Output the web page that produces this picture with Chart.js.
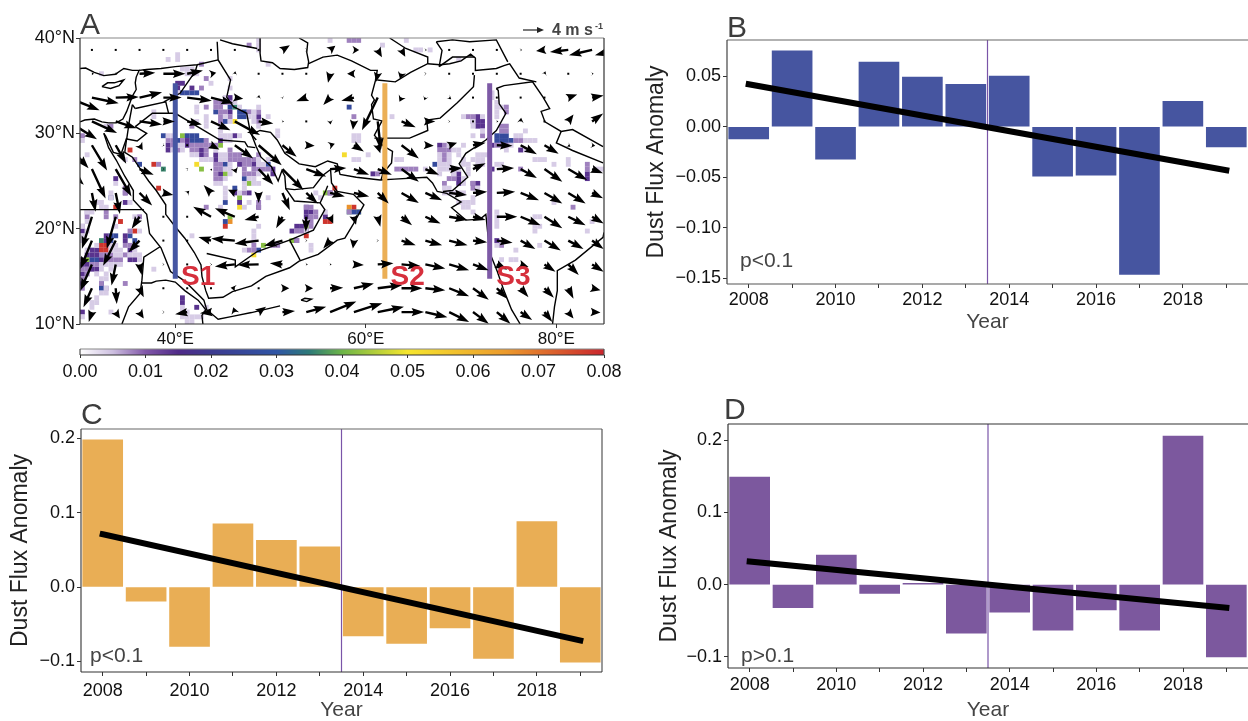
<!DOCTYPE html>
<html>
<head>
<meta charset="utf-8">
<title>Dust flux anomaly</title>
<script src="https://cdn.jsdelivr.net/npm/chart.js@4"></script>
<style>
    html, body { margin: 0; padding: 0; background: #fff; width: 1248px; height: 721px; overflow: hidden; }
    .panel { position: absolute; }
</style>
</head>
<body>
<div class="panel" style="left:0;top:0;width:640px;height:345px"><canvas id="mapChart"></canvas></div>
<div class="panel" style="left:40px;top:345px;width:600px;height:40px"><canvas id="barChart"></canvas></div>
<div class="panel" style="left:640px;top:10px;width:608px;height:330px"><canvas id="chartB"></canvas></div>
<div class="panel" style="left:0;top:395px;width:620px;height:326px"><canvas id="chartC"></canvas></div>
<div class="panel" style="left:640px;top:395px;width:608px;height:326px"><canvas id="chartD"></canvas></div>
<script>
// ─── Data: anomaly panels ───
const years = [2008, 2009, 2010, 2011, 2012, 2013, 2014, 2015, 2016, 2017, 2018, 2019];
const fluxS1 = [-0.012, 0.075, -0.032, 0.064, 0.049, 0.042, 0.050, -0.049, -0.048, -0.146, 0.025, -0.020];
const fluxS2 = [0.198, -0.019, -0.080, 0.085, 0.063, 0.054, -0.066, -0.076, -0.055, -0.096, 0.088, -0.101];
const fluxS3 = [0.149, -0.032, 0.041, -0.012, 0.002, -0.067, -0.038, -0.063, -0.035, -0.063, 0.206, -0.100];
const trendS1 = [0.042, -0.043];
const trendS2 = [0.071, -0.072];
const trendS3 = [0.032, -0.032];
const ticksS1 = [0.05, 0, -0.05, -0.10, -0.15];
const ticksS23 = [0.2, 0.1, 0, -0.1];
const breakYear = 2013.5;

// ─── Data: map ───
const lonTicks = [40, 60, 80];
const latTicks = [10, 20, 30, 40];
const barTicks = [0, 0.01, 0.02, 0.03, 0.04, 0.05, 0.06, 0.07, 0.08];
const sectionLons = [40, 62, 73];
const sectionLats = [35.25, 14.75];
const sectionNames = ['S1', 'S2', 'S3'];
const sectionLabelLons = [40.6, 62.6, 73.7];
const sectionLabelLat = 14.1;
const keySpeed = 4;

// dust cells, one row per line: [lat, lon, lon, ...]
const dustFaint = [
    [39.75, 48.75, 56.25, 64.25], [39.25, 48.75, 61.75], [38.75, 48.75, 65.25, 65.75, 66.75], [38.25, 40.25],
    [37.75, 39.25, 40.25, 69.75], [37.25, 49.75], [36.75, 40.75, 41.25, 41.75], [36.25, 32.25, 41.25, 41.75, 42.25],
    [35.75, 45.75], [35.25, 43.75], [34.75, 45.75], [34.25, 40.25, 73.25], [33.75, 45.25, 73.25], [33.25, 46.25, 73.75],
    [32.75, 42.25, 46.75, 48.75, 73.75, 74.25], [32.25, 37.75, 42.25, 48.25, 73.75],
    [31.75, 37.75, 43.25, 45.25, 47.75, 48.25, 49.75, 62.75, 70.25, 72.25, 73.75], [31.25, 42.25, 43.25, 45.75, 48.25, 71.25],
    [30.75, 32.75, 43.25, 44.75, 48.75, 71.25], [30.25, 44.75, 50.75, 72.25, 76.75],
    [29.75, 39.25, 39.75, 44.75, 45.25, 45.75, 46.75, 50.75, 58.75, 59.25, 71.25, 75.75, 76.25],
    [29.25, 30.25, 45.25, 45.75, 58.75, 59.25, 76.75, 77.25, 77.75], [28.75, 40.25, 40.75, 68.75, 70.25, 75.25],
    [28.25, 39.75, 40.75, 44.25, 69.25, 69.75, 74.75, 76.75],
    [27.75, 30.75, 41.75, 42.25, 44.75, 45.25, 60.25, 67.75, 68.75, 69.75, 71.75, 72.25, 72.75],
    [27.25, 34.75, 42.75, 43.25, 43.75, 44.75, 45.25, 48.75, 49.75, 58.75, 59.25, 63.25, 63.75, 67.75, 68.75, 70.25, 71.25, 71.75, 72.25, 77.75, 78.25, 78.75, 81.25],
    [26.75, 45.75, 48.75, 49.25, 67.75, 68.25, 68.75, 70.25, 70.75, 71.75, 72.25, 73.75, 74.25, 79.75, 81.25],
    [26.25, 45.25, 45.75, 66.25, 67.75, 68.25, 68.75, 69.75, 70.75, 84.25, 84.75], [25.75, 45.75, 48.75, 67.75, 69.25, 70.75],
    [25.25, 45.25, 47.75, 48.25, 70.25], [24.75, 33.75, 44.25, 44.75, 47.25, 48.25, 48.75, 70.25], [24.25, 45.25, 47.25, 68.25, 68.75, 71.75],
    [23.75, 33.25, 45.25, 46.75, 54.75, 68.25, 68.75, 69.25, 69.75, 70.25], [23.25, 33.25, 45.25, 49.75, 55.25, 71.25],
    [22.75, 31.75, 32.25, 35.25, 47.75, 69.75, 70.25, 70.75, 71.25, 79.75], [22.25, 32.25, 32.75, 44.75, 47.25, 70.25, 70.75],
    [21.75, 30.75, 31.25, 55.75, 71.25, 73.75], [21.25, 35.75, 73.75, 77.75, 78.25], [20.75, 30.75, 53.75, 73.75, 83.75],
    [20.25, 30.25, 33.75, 48.75, 73.75, 77.75, 78.25], [19.75, 30.75, 36.25, 48.25, 53.75, 77.75, 83.25], [19.25, 30.25, 41.75, 48.25],
    [18.75, 30.25, 48.25], [18.25, 31.75, 33.25, 33.75, 35.75, 54.25, 73.75, 78.25], [17.75, 30.75, 33.25, 33.75, 34.25, 35.75, 47.25, 54.25, 75.75],
    [17.25, 33.75, 34.25, 35.25, 35.75, 36.25], [16.75, 36.25, 74.25, 75.25, 75.75], [16.25, 32.25, 32.75, 33.25, 33.75, 34.25],
    [15.75, 32.25, 33.25, 37.75], [15.25, 31.75, 32.75], [14.75, 32.25, 32.75], [13.75, 32.75], [13.25, 32.25, 32.75], [12.75, 31.75],
    [12.25, 31.25, 31.75], [11.75, 31.25, 40.75, 43.25], [11.25, 33.25, 40.75, 41.25, 43.25],
    [10.75, 30.25, 40.75, 41.25, 41.75, 42.25, 42.75], [10.25, 41.25, 41.75]
];
const dustMid = [
    [39.75, 58.25, 58.75, 59.25], [39.25, 47.75], [37.25, 42.75], [35.75, 43.25], [34.75, 42.75], [33.25, 44.25, 44.75, 45.25, 45.75],
    [32.75, 43.25, 44.25, 44.75, 74.75], [32.25, 44.75, 45.25, 47.75, 48.75, 74.75], [31.75, 44.75, 45.75, 58.75, 70.75, 71.25],
    [31.25, 44.75, 48.75, 71.25], [30.75, 33.25, 41.75, 74.25, 74.75], [30.25, 74.25, 74.75], [29.75, 30.25, 72.25],
    [29.25, 39.25, 39.75, 40.75, 43.25, 75.75, 76.25], [28.75, 39.75, 41.75, 42.25, 42.75, 43.25, 43.75, 44.25, 68.25, 73.75, 74.25, 74.75],
    [28.25, 40.25, 41.75, 42.25, 43.25, 45.75, 67.75, 68.25, 68.75], [27.75, 43.25, 45.75, 46.25, 46.75, 48.75, 68.25],
    [27.25, 35.75, 45.75, 46.25, 46.75, 47.25, 47.75, 48.25, 68.25], [26.75, 38.25, 44.25, 44.75, 47.25, 47.75, 83.25],
    [26.25, 44.25, 44.75, 47.25, 48.25, 48.75, 49.25, 49.75, 63.25, 63.75, 64.25, 64.75, 65.25, 76.25, 83.25],
    [25.75, 44.25, 47.25, 47.75, 48.25, 61.25, 69.25], [25.25, 44.25, 44.75, 68.75, 69.25], [24.75, 68.25, 71.25],
    [24.25, 34.75, 71.25], [23.75, 34.75, 47.25, 56.25], [22.75, 48.75], [22.25, 43.25, 48.75, 53.75, 54.25, 81.75],
    [21.75, 30.75, 32.75, 54.75, 58.25], [21.25, 30.75, 32.75, 33.75, 36.25, 54.25, 54.75], [20.75, 53.75, 54.25], [20.25, 30.25, 54.25],
    [19.75, 35.25, 52.75, 53.25], [18.75, 52.75], [18.25, 34.75, 35.25, 48.25, 50.25, 50.75, 74.25], [17.75, 47.75, 48.25],
    [17.25, 32.25, 32.75, 33.25, 34.75], [16.75, 30.25, 32.75, 33.25, 33.75, 34.25], [16.25, 31.25, 31.75], [15.75, 30.25, 30.75], [15.25, 30.75],
    [14.75, 30.25], [14.25, 32.25, 34.75], [13.75, 30.25, 32.75], [11.25, 40.75]
];
const dustDark = [
    [35.25, 40.25, 40.75], [34.75, 40.25, 41.75], [33.75, 45.75], [32.25, 45.75], [31.75, 48.75, 71.75], [31.25, 71.75, 72.25], [30.75, 71.75, 72.25],
    [29.75, 46.25], [29.25, 41.25, 44.75], [28.75, 39.25, 41.25, 67.75, 73.25], [28.25, 39.25, 42.75, 76.25], [27.75, 42.75, 44.25], [27.25, 44.25],
    [26.75, 46.75, 48.25], [26.25, 50.25, 73.25], [25.75, 44.75, 50.25, 60.75, 69.75, 83.25], [25.25, 33.75, 69.75, 83.25],
    [24.75, 69.75, 71.25, 71.75], [23.75, 46.25, 47.75, 34.75, 56.25], [22.75, 46.75, 34.75], [22.25, 48.75, 53.75],
    [21.75, 53.75, 54.25], [21.25, 53.75, 55.75], [20.25, 52.75, 53.25], [19.75, 30.25, 52.25, 53.75], [19.25, 32.75, 34.75],
    [18.75, 32.75, 34.75, 52.75, 73.75], [17.75, 31.25, 31.75, 35.25], [17.25, 30.75, 31.25, 31.75], [16.75, 32.25, 35.25, 35.75],
    [16.25, 30.25, 30.75], [15.75, 31.25, 31.75], [15.25, 30.25], [14.25, 30.25], [12.75, 40.75], [12.25, 40.75], [11.75, 42.25], [11.25, 30.25]
];
const dustBlue = [
    [34.25, 40.75, 41.25, 41.75, 42.25], [32.75, 45.75, 58.25], [32.25, 44.25, 46.75, 47.25], [31.75, 46.75, 47.25], [31.25, 45.25],
    [29.75, 38.75, 41.25, 41.75, 42.25, 73.75, 74.25, 74.75], [29.25, 40.25, 41.75, 42.25, 42.75, 73.75, 74.25, 74.75, 75.25],
    [26.75, 36.25, 45.25, 49.75, 67.25], [25.25, 47.25], [24.25, 46.25], [23.25, 33.25], [22.75, 45.25], [21.75, 58.75, 59.25], [20.75, 45.25],
    [19.25, 33.25, 33.75, 35.25], [18.75, 33.25, 35.75], [17.75, 48.75], [16.75, 31.25, 31.75], [14.25, 32.25], [13.75, 32.25]
];
const dustTeal = [[32.75, 46.25], [26.25, 38.75], [21.75, 58.25], [18.75, 32.25]];
const dustGreen = [
    [29.75, 40.75], [28.75, 44.75], [26.25, 42.75], [25.75, 45.25], [24.75, 47.75], [23.75, 55.75], [23.25, 46.75], [21.75, 59.25],
    [21.25, 45.75], [20.25, 53.75], [18.75, 52.25], [18.25, 49.25], [16.75, 30.75]
];
const dustYellow = [[31.25, 46.25], [27.75, 57.75], [26.75, 42.25], [22.25, 46.75], [17.25, 48.25]];
const dustOrange = [[22.25, 58.25], [20.75, 45.75]];
const dustRed = [
    [28.25, 35.25], [26.75, 37.75], [24.25, 38.25, 56.75], [22.25, 33.75, 58.75], [20.75, 34.25, 55.75, 56.25],
    [20.25, 45.25], [19.75, 35.75], [19.25, 53.75], [18.25, 32.25, 32.75], [17.75, 32.25, 32.75]
];
const dustValues = [0.004, 0.008, 0.014, 0.026, 0.036, 0.042, 0.052, 0.066, 0.078];
const dustGroups = [dustFaint, dustMid, dustDark, dustBlue, dustTeal, dustGreen, dustYellow, dustOrange, dustRed];

// colour ramp of the bar: value, colour
const rampValues = [0, 0.005, 0.01, 0.015, 0.02, 0.03, 0.035, 0.04, 0.05, 0.065, 0.08];
const rampColors = ['#ffffff', '#cdbfe0', '#8157a8', '#4f2a88', '#3d3a8f', '#2f55a5', '#2d7a78', '#6cb548', '#f6e62e', '#ec9a2c', '#c9252d'];

// wind grid, tail of each arrow sits on these
const windLons = [28.75, 31.25, 33.75, 36.25, 38.75, 41.25, 43.75, 46.25, 48.75, 51.25, 53.75, 56.25, 58.75, 61.25, 63.75, 66.25, 68.75, 71.25, 73.75, 76.25, 78.75, 81.25, 83.75, 86.25];
const windLats = [38.75, 36.25, 33.75, 31.25, 28.75, 26.25, 23.75, 21.25, 18.75, 16.25, 13.75, 11.25];
const windU = [
    [0, .1, .1, .1, .1, .1, .1, .1, .1, 1.4, .2, 1, 1, .8, .7, .3, .1, .1, .1, .3, -1.6, -3.5, -4.4, -4],
    [0, .4, .4, 3, 4.2, 3, 1, .1, .1, 0, 0, -.4, -1.3, -.3, -.3, .2, .1, .1, .1, .1, .2, .1, .3, 0],
    [6, 5.1, 4.4, 4.3, 3.5, 4.7, 4.3, 1.6, .1, .1, -1.9, -1.3, -2.4, -3, -.4, -.2, .4, .1, .1, .1, .1, 1.7, 2.2, 0],
    [5.5, 4.8, 4, 4.3, 2.2, 2.8, 3.7, 4.8, 2.8, .3, .1, .1, -.2, .6, 2.7, 1.9, .2, .1, .3, .1, .1, 1, 2.1, 0],
    [3.9, 2.9, 2, .6, .2, .1, 1.6, 3.5, 4.4, 2.7, 1.6, .9, 1.9, .5, 3.3, 1.6, 1.5, 2.4, 3, 3.1, 2.7, .4, .6, 0],
    [3, 2.6, 3, 2.7, .2, .2, .2, .3, 2.8, 4, 3.8, 3.1, 2.9, 2.7, 3.3, 2.6, 2.5, 2.4, 3.3, 3.1, 3.4, 3.6, 2.1, 0],
    [2, .7, .8, 2.4, 1.9, .4, -1.4, -1.3, 0, 1.4, 2.2, 2.8, 2.9, 2.1, 3.3, 3.2, 3.4, 2.7, 3.5, 3.5, 3.4, 3.3, 2.1, 0],
    [2, -1.9, -1.7, -1.5, .1, .1, -3.4, -3.8, -2.7, -1.2, -.1, .6, .4, .5, 2, 2.9, 3.5, 2.4, 3.9, 3.8, 3.4, 3.3, 2.2, 0],
    [0, -2.2, -2.4, -2.1, .1, .1, -2.4, -4.5, -4.6, -3.5, .2, -1.3, -.2, .2, 2.7, 3.2, 3.5, 2.7, 3, 2.8, 3.1, 2.9, 2.2, 0],
    [0, -2.2, -.8, .4, .2, .1, .2, -3.8, -4, -2.4, .3, .3, 1.9, 3, 3.6, 3.8, 3.8, 3, 2, 1.5, 2.1, 2, 2.2, 0],
    [0, -1.6, .2, .8, .1, .1, .1, -.8, .1, 1.3, 1.3, 2.5, 3.8, 4.7, 4, 3.8, 3.8, 3, 2, 1.5, 1.8, 1, 1.6, 0],
    [0, -.6, .8, .8, .2, -2.3, -2.1, -.3, 1.4, 2.4, 3.8, 5, 5.4, 5, 4.3, 4.2, 3.8, 3, 2.6, 2.2, 1.5, 1, 1.6, 0]
];
const windV = [
    [0, -.1, -.1, 0, 0, 0, 0, 0, 0, .9, 0, .8, 0, -1.4, -1.3, 0, 0, 0, 0, 0, -.2, -.4, -1, -1],
    [0, 0, 0, .2, 0, .6, .2, .5, .1, 0, 0, -1.7, 0, -1.5, -1, 0, 0, 0, 0, 0, .5, 0, 0, 0],
    [-2.4, -1.1, .1, 1, 0, -.6, -1.1, -.2, .5, -.2, -.7, -1.4, -.6, -6.2, -.8, -.5, -.3, 0, 0, 0, 0, .6, .4, 0],
    [-3.4, -2.2, -1.3, -.6, 0, -.6, -1.7, -2.6, -.4, 0, 0, -.6, -1.6, -5.5, -1.1, 0, 0, 0, 0, .7, 0, 1.3, 1.5, 0],
    [-4.4, -4.8, -3.5, -.9, -.1, 0, -.8, -2.5, -3.8, -2.2, -.1, .3, -1.2, -1.5, -2.5, -.1, .5, .5, -.1, -1.7, -1.6, -.3, -.1, 0],
    [-3, -5.6, -5.2, -1.1, 0, .1, -.3, -.8, -3, -4, -1.4, .2, -1.1, -1.1, -2.4, -1.1, .2, 1.1, .2, -1.7, -2.4, -2.1, -.8, 0],
    [-3, -3.6, -4, -2.4, -.4, .4, 1.5, .6, -1.9, -3.3, -2, -.7, -.7, -2, -1.9, -1.4, -.4, .2, .2, -1.4, -2, -2, -1, 0],
    [-3, -6.1, -6.1, -2.3, 0, 0, 1.9, 1.6, -.6, -2.2, -2.9, -1.3, -1.5, -1.9, -1.6, -1.3, -.6, -.6, 0, -1.6, -2.2, -1.6, -1.3, 0],
    [0, -5.4, -4.8, -2.2, 0, 0, .7, .4, -.6, -1, 0, -1.5, -1.5, 0, -.9, -.9, -.9, -.3, -.4, -1.6, -1.9, -1.6, -1.6, 0],
    [0, -5, -4, -2, 0, 0, 0, -.4, -.1, .2, 0, 0, -.1, .2, -.3, -.8, -1.1, -1.1, -1, -.5, -1.4, -2, -1.4, 0],
    [0, -3.6, -3, -1.7, 0, 0, 0, .1, 0, 0, 0, .1, .9, .6, 0, -.4, -1.5, -2.2, -2, -1.7, -1.8, -2, -.4, 0],
    [0, -1.9, -1.2, -1.2, 0, -.4, -.2, .9, 1, .2, 1, 2, 1.7, 1, 0, -1, -1.9, -2.2, -2.2, -1.5, -1.9, -1.2, -.1, 0]
];

// coast and border polylines, flat lon,lat
const mapLines = [
    [30, 36.8, 30.6, 36.85, 31.5, 36.4, 32.5, 36.05, 33.7, 36.2, 34.6, 36.8, 35.5, 36.6, 36.2, 36.6, 35.9, 35.9, 35.8, 35.3, 35.9, 34.6, 35.5, 33.9, 35.2, 33.1, 34.9, 32.3, 34.5, 31.5, 33.8, 31.1, 33, 31.1, 32.3, 31.2, 31.5, 31.5, 30.5, 31.4, 30, 31.2],
    [32.3, 34.9, 33.2, 34.7, 34.1, 35, 34.6, 35.6, 33.6, 35.3, 32.9, 35.3, 32.3, 34.9],
    [32.5, 30, 33, 28.5, 33.8, 27.2, 34.7, 25.5, 35.6, 24, 35.6, 23, 37, 21.5, 37.3, 19.5, 38.5, 18, 39.5, 15.5, 41, 14.5, 43, 12.5, 43.3, 11.5, 44.5, 10.5, 46, 10.8, 48, 11.2, 51, 11.9],
    [32.5, 30, 32.7, 29.7, 33.5, 28, 34.3, 27.8, 34.9, 29.5],
    [34.9, 29.5, 34.7, 28, 35.5, 27.5, 36.5, 26, 37.2, 25, 38, 24, 39, 22.5, 39, 21.5, 40, 20.2, 41, 19, 42, 17.5, 42.7, 16.2, 42.8, 15, 43.2, 13.5, 43.5, 12.7, 45, 12.8, 46, 13.4, 48, 14, 49.5, 15, 52, 15.9, 53, 16.6, 55, 17.3, 57, 18.8, 57.8, 19, 58.7, 20.5, 59.8, 22.5, 58.7, 23.6, 57, 23.9, 56.4, 24.8, 56.3, 26.2, 55.5, 25.6, 54.5, 24.3, 52.5, 24.1, 51.6, 24.2, 51.5, 25.5, 51.2, 26.1, 50.8, 25, 50.1, 26.5, 49, 27.5, 48.5, 28.6, 48, 29.9, 48.9, 30.3, 50, 30.1, 50.7, 29.3, 51.5, 27.9, 53, 26.8, 54.7, 26.5, 56, 27.1, 57, 26.8, 57.3, 25.7, 59, 25.4, 61.5, 25.1, 63, 25.2, 66.4, 25.4, 67, 24.8, 67.5, 23.9, 68.5, 23.7, 70, 22.8, 69, 22.2, 70.5, 20.9, 72, 21, 72.6, 21.5, 72.8, 19.5, 73, 17.5, 73.8, 15.5, 74.5, 13.5, 75.3, 11.5, 76.2, 10],
    [79.6, 10, 79.8, 11.8, 80.1, 13.5, 80.1, 15.6, 82, 16.7, 84.9, 19.1, 85, 19.6],
    [48.9, 40, 48.9, 38.4, 49, 37.6, 50.2, 37.4, 51, 36.8, 52.5, 36.7, 53.9, 36.9, 54, 37.5, 53.8, 38.5, 53.9, 39.5, 53, 40],
    [54, 37.3, 55.5, 38, 57, 38.2, 58.5, 37.6, 60.5, 36.6, 61.2, 36.6, 61, 35.5, 60.6, 34, 60.9, 33.5, 60.6, 33, 60.8, 31.5, 61.7, 31.3, 60.9, 29.8, 61.8, 28.7, 62.8, 28.1, 62.7, 26.9, 61.8, 25.8, 61.6, 25.1],
    [61.2, 35.6, 63.1, 35.4, 64.7, 36.4, 66.5, 37.3, 67.8, 37.2, 68.8, 37.3, 70, 37.6, 71, 38.3, 71.5, 37.9, 71.5, 36.6, 73.7, 36.8, 74.5, 37.1, 75.1, 37.3, 76.1, 35.8, 77.9, 35.4],
    [71.4, 36.1, 71.3, 34.9, 69.6, 33.2, 67.8, 31.6, 66.4, 31.4, 66.5, 30.3, 64.6, 29.5, 60.9, 29.5],
    [73.7, 34.7, 73.9, 34.5, 74, 33.1, 74.7, 32.1, 73.7, 30.3, 72.6, 29.3, 70.5, 27.9, 69.8, 26.8, 70.7, 25.4, 69.1, 24, 68.1, 23.9],
    [73.7, 34.7, 74.5, 35, 77.5, 35.4, 78.6, 33.8, 79.3, 32.6, 78.4, 32.3, 78.8, 31.2, 80.5, 30.2, 81.7, 30.4, 84.9, 28.6],
    [80.5, 30.2, 80, 29, 81.7, 28.2, 84.9, 26.9],
    [62.5, 40, 64.2, 38.9, 66.5, 38, 66.5, 37.3],
    [67.4, 39.6, 69.1, 39.8, 70.9, 39.6, 73.7, 39.8, 74.9, 37.5],
    [71.4, 38, 69.1, 38, 67.7, 37],
    [67.7, 37, 68, 38.7, 67.4, 39.6],
    [30, 22, 36.7, 22],
    [38.4, 18.1, 36.7, 17, 36.5, 14.6, 36.3, 13.2, 35.1, 11.8, 34.4, 10],
    [36.5, 14.3, 37.5, 14.3, 38, 14.5, 39, 14.6, 40, 14.4, 41, 13.5, 42.4, 12.5, 42.8, 12, 43.2, 11.5, 42.8, 10.9, 42.9, 10],
    [35.8, 32.6, 39, 33.3, 39.3, 32.1, 40, 32.1, 44.7, 29.3, 47.3, 29.1, 47.6, 28.6, 48.4, 28.5],
    [35.8, 30.7, 37.6, 32.1, 39.3, 32.1],
    [34.9, 29.4, 35.2, 31.4, 35.5, 33],
    [35.8, 32.6, 35.5, 33],
    [34.9, 29.4, 36, 29.2, 37, 30, 35.8, 30.7],
    [36.2, 36.6, 37, 36.7, 38.5, 36.8, 40, 37, 41.2, 37.1, 42.3, 37.2, 44.5, 37.7],
    [42.3, 37.2, 42.1, 36.5, 40.5, 34.2, 38.8, 33.3],
    [44.4, 39.6, 44.5, 37.7, 45.8, 35.6, 45.4, 33.8, 46.1, 32.8, 47.5, 32.1, 47.9, 30, 48.5, 29.3],
    [44.7, 39.8, 46, 39.4, 48.6, 38.9],
    [43.3, 17.4, 46.3, 16.7, 46.3, 16, 48.6, 17.6, 52, 18.8, 53.1, 16.7],
    [52, 18.8, 54.5, 19.85, 55.7, 22, 55.2, 22.7, 52.5, 22.9, 51.6, 24.2],
    [55.2, 22.7, 55.8, 24, 56, 24.5],
    [53.2, 12.5, 53.6, 12.7, 54.3, 12.6, 53.8, 12.35, 53.2, 12.5]
];

// ─── Styles ───
const FONT = "'Liberation Sans', Arial, sans-serif";
const TICK_COLOR = '#111';
const TEXT_COLOR = '#444';
const KEY_PX = 21 / 4; // pixels per m/s
const CELL_RADIUS = 3.45;

function dustColor(value) {
    let i = 1;
    while (i < rampValues.length - 1 && value > rampValues[i]) i++;
    const f = Math.max(0, (value - rampValues[i - 1]) / (rampValues[i] - rampValues[i - 1]));
    const a = parseInt(rampColors[i - 1].slice(1), 16);
    const b = parseInt(rampColors[i].slice(1), 16);
    const mix = s => Math.round(((a >> s) & 255) * (1 - f) + ((b >> s) & 255) * f);
    return `rgb(${mix(16)},${mix(8)},${mix(0)})`;
}

const minusText = s => s.replace('-', '\u2212');

// ─── Plugins ───
const framePlugin = {
    id: 'frame',
    afterDraw: (chart, args, opts) => {
        const { ctx, chartArea: a } = chart;
        const sides = {
            top: [a.left, a.top, a.right, a.top],
            bottom: [a.left, a.bottom, a.right, a.bottom],
            left: [a.left, a.top, a.left, a.bottom],
            right: [a.right, a.top, a.right, a.bottom]
        };
        ctx.save();
        ctx.lineWidth = opts.width || 1.2;
        Object.keys(opts.colors || {}).forEach(k => {
            const s = sides[k];
            ctx.strokeStyle = opts.colors[k];
            ctx.beginPath();
            ctx.moveTo(s[0], s[1]);
            ctx.lineTo(s[2], s[3]);
            ctx.stroke();
        });
        ctx.restore();
    }
};

const notePlugin = {
    id: 'notes',
    afterDraw: (chart, args, opts) => {
        const ctx = chart.ctx;
        ctx.save();
        (opts.items || []).forEach(n => {
            ctx.font = n.font;
            ctx.fillStyle = n.color;
            ctx.textAlign = 'left';
            ctx.textBaseline = 'alphabetic';
            ctx.fillText(n.text, n.x, n.y);
        });
        ctx.restore();
    }
};

function drawArrow(ctx, x0, y0, x1, y1) {
    const len = Math.hypot(x1 - x0, y1 - y0);
    if (len < 1) {
        ctx.fillRect(x0 - 1, y0 - 1, 2, 2);
        return;
    }
    const hl = Math.min(11, len);
    const hw = Math.min(4.2, 1 + len * 0.6);
    const sw = 1.2;
    ctx.save();
    ctx.translate(x0, y0);
    ctx.rotate(Math.atan2(y1 - y0, x1 - x0));
    ctx.beginPath();
    ctx.moveTo(0, -sw);
    ctx.lineTo(len - hl, -sw);
    ctx.lineTo(len - hl - 1.5, -hw);
    ctx.lineTo(len, 0);
    ctx.lineTo(len - hl - 1.5, hw);
    ctx.lineTo(len - hl, sw);
    ctx.lineTo(0, sw);
    ctx.closePath();
    ctx.fill();
    ctx.restore();
}

const windPlugin = {
    id: 'wind',
    afterDatasetsDraw: chart => {
        const { ctx, chartArea: a, scales: { x, y } } = chart;
        ctx.save();
        ctx.beginPath();
        ctx.rect(a.left, a.top, a.width, a.height);
        ctx.clip();
        ctx.fillStyle = '#000';
        windLats.forEach((lat, r) => {
            windLons.forEach((lon, c) => {
                const px = x.getPixelForValue(lon);
                const py = y.getPixelForValue(lat);
                drawArrow(ctx, px, py, px + windU[r][c] * KEY_PX, py - windV[r][c] * KEY_PX);
            });
        });
        ctx.restore();

        // section labels sit on top of the arrows
        ctx.save();
        ctx.font = `bold 28px ${FONT}`;
        ctx.fillStyle = '#d62f3c';
        ctx.textAlign = 'left';
        sectionNames.forEach((name, i) => {
            ctx.fillText(name, x.getPixelForValue(sectionLabelLons[i]), y.getPixelForValue(sectionLabelLat));
        });
        ctx.restore();

        // key arrow and its text, above the frame
        ctx.save();
        ctx.fillStyle = '#222';
        ctx.strokeStyle = '#222';
        const kx = 523;
        ctx.lineWidth = 1.2;
        ctx.beginPath();
        ctx.moveTo(kx, 30);
        ctx.lineTo(kx + keySpeed * KEY_PX - 4, 30);
        ctx.stroke();
        ctx.beginPath();
        ctx.moveTo(kx + keySpeed * KEY_PX, 30);
        ctx.lineTo(kx + keySpeed * KEY_PX - 7, 27);
        ctx.lineTo(kx + keySpeed * KEY_PX - 7, 33);
        ctx.closePath();
        ctx.fill();
        ctx.fillStyle = TEXT_COLOR;
        ctx.font = `bold 16px ${FONT}`;
        ctx.fillText(`${keySpeed} m s`, 552, 35);
        ctx.font = `bold 9px ${FONT}`;
        ctx.fillText('-1', 595, 29);
        ctx.restore();
    }
};

// ─── Map panel ───
function initMap() {
    const cells = dustGroups.map((rows, g) => {
        const data = [];
        rows.forEach(row => row.slice(1).forEach(lon => data.push({ x: lon, y: row[0] })));
        return {
            type: 'scatter',
            data,
            order: 5,
            pointStyle: 'rect',
            pointRadius: CELL_RADIUS,
            pointBorderWidth: 0,
            pointBackgroundColor: dustColor(dustValues[g]),
            showLine: false
        };
    });
    const lines = mapLines.map(flat => {
        const data = [];
        for (let i = 0; i < flat.length; i += 2) data.push({ x: flat[i], y: flat[i + 1] });
        return {
            type: 'line', data, order: 4, borderColor: '#000', borderWidth: 1.4,
            pointRadius: 0, tension: 0, fill: false
        };
    });
    const sectionColors = ['#4656a2', '#ebaf56', '#7d5aa6'];
    const sections = sectionLons.map((lon, i) => ({
        type: 'line',
        data: sectionLats.map(lat => ({ x: lon, y: lat })),
        order: 3, borderColor: sectionColors[i], borderWidth: 5, pointRadius: 0, fill: false
    }));

    new Chart(document.getElementById('mapChart'), {
        type: 'scatter',
        data: { datasets: [...cells, ...lines, ...sections] },
        options: {
            responsive: true, maintainAspectRatio: false, animation: false,
            layout: { padding: { top: 38, right: 36 } },
            plugins: {
                legend: { display: false }, tooltip: { enabled: false },
                frame: { colors: { top: '#888', left: '#333', right: '#333', bottom: '#333' } },
                notes: { items: [{ text: 'A', x: 80, y: 34, font: `30px ${FONT}`, color: '#3c3c3c' }] }
            },
            scales: {
                x: {
                    type: 'linear', min: 30, max: 85,
                    afterBuildTicks: axis => { axis.ticks = lonTicks.map(value => ({ value })); },
                    afterFit: axis => { axis.height = 21; },
                    grid: { drawOnChartArea: false, tickLength: 4, tickColor: '#333' },
                    border: { display: false },
                    ticks: { color: TICK_COLOR, font: { family: FONT, size: 17 }, padding: 1, autoSkip: false, maxRotation: 0, callback: v => `${v}°E` }
                },
                y: {
                    type: 'linear', min: 10, max: 40,
                    afterBuildTicks: axis => { axis.ticks = latTicks.map(value => ({ value })); },
                    afterFit: axis => { axis.width = 80; },
                    grid: { drawOnChartArea: false, tickLength: 4, tickColor: '#333' },
                    border: { display: false },
                    ticks: { color: TICK_COLOR, font: { family: FONT, size: 18 }, padding: 1, autoSkip: false, callback: v => `${v}°N` }
                }
            }
        },
        plugins: [framePlugin, notePlugin, windPlugin]
    });

    new Chart(document.getElementById('barChart'), {
        type: 'bar',
        data: {
            labels: ['dust'],
            datasets: [{
                data: [[0, 0.08]],
                barPercentage: 1,
                categoryPercentage: 1,
                backgroundColor: ctx => {
                    const { ctx: c, chartArea: a, scales: { x } } = ctx.chart;
                    if (!a) return '#888';
                    const g = c.createLinearGradient(x.left, 0, x.right, 0);
                    rampValues.forEach((v, i) => g.addColorStop(v / 0.08, rampColors[i]));
                    return g;
                }
            }]
        },
        options: {
            indexAxis: 'y', responsive: true, maintainAspectRatio: false, animation: false,
            layout: { padding: { top: 4, right: 36 } },
            plugins: {
                legend: { display: false }, tooltip: { enabled: false },
                frame: { colors: { top: '#888', left: '#555', right: '#555', bottom: '#333' } }
            },
            scales: {
                x: {
                    type: 'linear', min: 0, max: 0.08,
                    afterBuildTicks: axis => { axis.ticks = barTicks.map(value => ({ value })); },
                    afterFit: axis => { axis.height = 30; },
                    grid: { drawOnChartArea: false, tickLength: 3, tickColor: '#333' },
                    border: { display: false },
                    ticks: { color: TICK_COLOR, font: { family: FONT, size: 18 }, padding: 3, autoSkip: false, maxRotation: 0, callback: v => v.toFixed(2) }
                },
                y: { type: 'category', display: true, afterFit: axis => { axis.width = 40; }, grid: { display: false }, border: { display: false }, ticks: { display: false } }
            }
        },
        plugins: [framePlugin]
    });
}

// ─── Anomaly panels ───
function initAnomaly(id, cfg) {
    new Chart(document.getElementById(id), {
        type: 'bar',
        data: {
            datasets: [{
                type: 'bar',
                data: years.map((x, i) => ({ x, y: cfg.values[i] })),
                backgroundColor: cfg.color,
                barThickness: 40,
                order: 3
            }, {
                type: 'line',
                data: [{ x: breakYear, y: cfg.yMin }, { x: breakYear, y: cfg.yMax }],
                borderColor: '#7a55a8', borderWidth: 1.2, pointRadius: 0, fill: false, order: 2
            }, {
                type: 'line',
                data: [{ x: years[0], y: cfg.trend[0] }, { x: years[years.length - 1], y: cfg.trend[1] }],
                borderColor: '#000', borderWidth: 6, borderCapStyle: 'square', pointRadius: 0, fill: false, order: 1
            }]
        },
        options: {
            responsive: true, maintainAspectRatio: false, animation: false,
            layout: { padding: { top: cfg.padTop, right: cfg.padRight } },
            plugins: {
                legend: { display: false }, tooltip: { enabled: false },
                frame: { colors: cfg.frame },
                notes: { items: cfg.notes }
            },
            scales: {
                x: {
                    type: 'linear', offset: false, min: 2007.5, max: 2019.5,
                    afterBuildTicks: axis => { axis.ticks = years.map(value => ({ value })); },
                    afterFit: axis => { axis.height = cfg.xHeight; },
                    grid: { offset: false, drawOnChartArea: false, tickLength: 4, tickColor: '#333' },
                    border: { display: false },
                    ticks: {
                        color: TICK_COLOR, font: { family: FONT, size: 18 }, padding: cfg.tickPad, autoSkip: false, maxRotation: 0,
                        callback: v => v % 2 === 0 ? String(v) : ''
                    },
                    title: { display: true, text: 'Year', color: TEXT_COLOR, font: { family: FONT, size: 21 }, padding: { top: 0, bottom: cfg.yearPad } }
                },
                y: {
                    type: 'linear', min: cfg.yMin, max: cfg.yMax,
                    afterBuildTicks: axis => { axis.ticks = cfg.ticks.map(value => ({ value })); },
                    afterFit: axis => { axis.width = cfg.yWidth; },
                    grid: { drawOnChartArea: false, tickLength: 4, tickColor: '#333' },
                    border: { display: false },
                    ticks: {
                        color: TICK_COLOR, font: { family: FONT, size: 18 }, padding: 2, autoSkip: false,
                        callback: v => minusText(v.toFixed(cfg.digits))
                    },
                    title: { display: true, text: 'Dust Flux Anomaly', color: '#222', font: { family: FONT, size: 23 }, padding: { top: cfg.titlePad, bottom: 0 } }
                }
            }
        },
        plugins: [framePlugin, notePlugin]
    });
}

const note = (text, x, y) => ({ text, x, y, font: `21px ${FONT}`, color: TEXT_COLOR });
const letter = (text, x, y) => ({ text, x, y, font: `30px ${FONT}`, color: '#3c3c3c' });

Chart.defaults.font.family = FONT;
initMap();
initAnomaly('chartB', {
    values: fluxS1, trend: trendS1, color: '#4655a0', ticks: ticksS1, digits: 2,
    yMin: -0.1556, yMax: 0.0858, padTop: 30, padRight: 0, xHeight: 56, yWidth: 87, yearPad: 5, titlePad: 3, tickPad: 1,
    frame: { top: '#666', left: '#444', bottom: '#555' },
    notes: [letter('B', 87, 27), note('p<0.1', 100, 257)]
});
initAnomaly('chartC', {
    values: fluxS2, trend: trendS2, color: '#e9ae55', ticks: ticksS23, digits: 1,
    yMin: -0.1144, yMax: 0.2127, padTop: 34, padRight: 18, xHeight: 49, yWidth: 81, yearPad: -2, titlePad: 7, tickPad: 4,
    frame: { top: '#666', left: '#444', right: '#555', bottom: '#333' },
    notes: [letter('C', 81, 29), note('p<0.1', 90, 267)]
});
initAnomaly('chartD', {
    values: fluxS3, trend: trendS3, color: '#7c589e', ticks: ticksS23, digits: 1,
    yMin: -0.1154, yMax: 0.2226, padTop: 29, padRight: 0, xHeight: 53, yWidth: 88, yearPad: -2, titlePad: 16, tickPad: 2,
    frame: { top: '#333', left: '#333', bottom: '#333' },
    notes: [letter('D', 84, 24), note('p>0.1', 101, 267)]
});
</script>
</body>
</html>
